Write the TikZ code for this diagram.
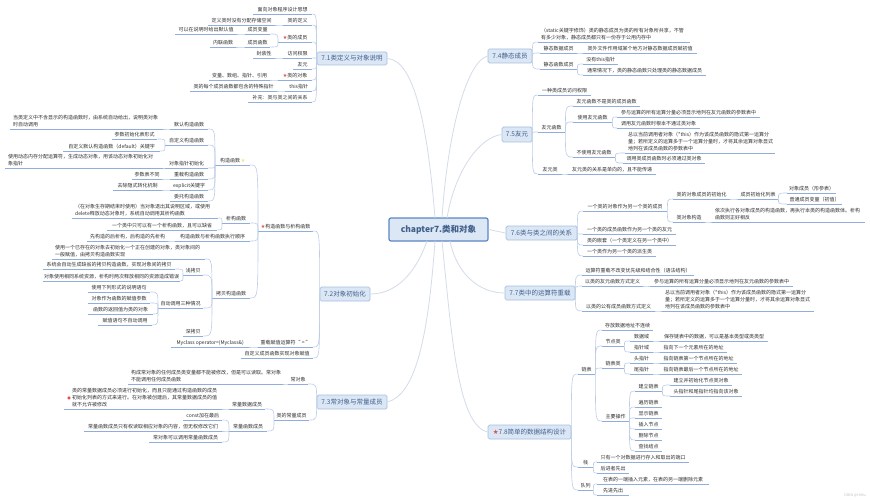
\documentclass[tikz,border=0pt]{standalone}
\usepackage{fontspec}
\setmainfont{Noto Sans CJK SC}
\newfontfamily\symfont{DejaVu Sans}
\usetikzlibrary{calc}
\definecolor{txt}{HTML}{2E2E2E}
\definecolor{uline}{HTML}{8FAEDB}
\definecolor{conn}{HTML}{BCCDE6}
\definecolor{mainconn}{HTML}{D3DCE8}
\definecolor{boxfill}{HTML}{DCE7F6}
\definecolor{boxedge}{HTML}{A6BEDF}
\definecolor{boxtext}{HTML}{3F5F8A}
\definecolor{rootedge}{HTML}{5B86C4}
\definecolor{redstar}{HTML}{D9534F}
\definecolor{yelstar}{HTML}{F3E08C}
\newcommand{\rs}{{\symfont\textcolor{redstar}{★}}}
\newcommand{\ys}{{\symfont\textcolor{yelstar}{★}}}
\tikzset{
  tp/.style={inner xsep=0pt,inner ysep=1.5pt,text height=4pt,text depth=1pt,text=txt,anchor=south west,font=\fontsize{5}{7}\selectfont},
  tpm/.style={inner xsep=3pt,inner ysep=1.5pt,align=left,text=txt,anchor=south west,font=\fontsize{5}{7}\selectfont},
  ul/.style={draw=uline,line width=0.8pt},
  lk/.style={draw=conn,line width=0.6pt},
  mlk/.style={draw=mainconn,line width=0.8pt},
  mainbox/.style={draw=boxedge,fill=boxfill,rounded corners=1.5pt,line width=0.7pt,inner sep=0pt,text=boxtext,font=\fontsize{6.5}{8}\selectfont},
  rootbox/.style={draw=rootedge,fill=boxfill,rounded corners=2pt,line width=1.2pt,inner sep=0pt,text=boxtext,font=\fontsize{8.5}{10}\selectfont\bfseries},
  icon/.style={inner sep=0pt,font=\fontsize{4}{4}\selectfont,text=redstar},
  wmark/.style={text=black!25,inner sep=0pt,font=\fontsize{3.5}{4}\selectfont}
}
\newcommand{\Tp}[5]{\node[tp] (#1) at (#2,#4) {\makebox[\dimexpr #3pt-#2pt\relax][c]{#5}};
  \draw[ul] (#1.south west) -- (#1.south east);}
\newcommand{\Tm}[5]{\node[tpm,text width=\dimexpr #3pt-#2pt-6pt\relax] (#1) at (#2,#4) {#5};
  \draw[ul] (#1.south west) -- (#1.south east);}
\newcommand{\Mb}[6]{\node[mainbox,minimum width=\dimexpr #3pt-#2pt\relax,minimum height=\dimexpr #5pt-#4pt\relax] (#1) at ({(#2+#3)/2},{(#4+#5)/2}) {#6};}
\newcommand{\Lk}[2]{\draw[lk] (#1) .. controls (#2 |- #1) and (#2 |- #1) .. (#2);}
\begin{document}
\begin{tikzpicture}[x=1pt,y=-1pt]
\useasboundingbox (0,0) rectangle (870,500);
\fill[white] (0,0) rectangle (870,500);
% root and main topics
\node[rootbox,minimum width=99pt,minimum height=23pt] (root) at (438.5,229.5) {chapter7.类和对象};
\Mb{m1}{317}{387}{52}{65}{7.1类定义与对象说明}
\Mb{m2}{320}{370}{287}{301}{7.2对象初始化}
\Mb{m3}{317}{387}{395}{409}{7.3常对象与常量成员}
\Mb{m4}{488}{532}{49}{63}{7.4静态成员}
\Mb{m5}{502}{532}{127}{142}{7.5友元}
\Mb{m6}{506}{577}{226}{240}{7.6类与类之间的关系}
\Mb{m7}{505}{575}{286}{300}{7.7类中的运算符重载}
\Mb{m8}{488}{571}{425}{439}{\rs 7.8简单的数据结构设计}
\coordinate (t1) at (435,218);
\coordinate (t2) at (442,218);
\coordinate (t3) at (447,218);
\coordinate (b1) at (427,241);
\coordinate (b2) at (435,241);
\coordinate (b3) at (442,241);
\coordinate (b4) at (450,241);
\draw[mlk] (m1.east) .. controls (415,60) and (428,130) .. (t1);
\draw[mlk] (m4.west) .. controls (465,62) and (447,140) .. (t2);
\draw[mlk] (m5.west) .. controls (480,137) and (455,170) .. (t3);
\draw[mlk] (root.east) -- (m6.west);
\draw[mlk] (b4) .. controls (457,275) and (480,293) .. (m7.west);
\draw[mlk] (b3) .. controls (452,340) and (458,425) .. (m8.west);
\draw[mlk] (b2) .. controls (428,340) and (415,395) .. (m3.east);
\draw[mlk] (b1) .. controls (415,275) and (395,294) .. (m2.east);
% 7.1
\Tp{a1}{253}{312}{14}{面向对象程序设计思想}
\Tp{a2}{283}{312}{25}{类的定义}
\Tp{a2a}{208}{275}{25}{定义类时没有分配存储空间}
\Tp{a3}{278}{312}{42}{\rs 类的成员}
\Tp{a3a}{245}{270}{34}{成员变量}
\Tp{a3b}{245}{270}{47}{成员函数}
\Tp{a3c}{175}{237}{34}{可以在说明时给出默认值}
\Tp{a3d}{210}{236}{47}{内联函数}
\Tp{a4}{283}{312}{58}{访问权限}
\Tp{a4a}{253}{275}{58}{封装性}
\Tp{a5}{293}{312}{69}{友元}
\Tp{a6}{278}{312}{80}{\rs 类的对象}
\Tp{a6a}{209}{270}{80}{变量、数组、指针、引用}
\Tp{a7}{285}{312}{91}{this指针}
\Tp{a7a}{190}{277}{91}{类的每个成员函数都包含的特殊指针}
\Tp{a8}{248}{312}{102}{补充：类与类之间的关系}
\foreach \c in {a1,a2,a3,a4,a5,a6,a7,a8} {\Lk{\c.south east}{m1.west}}
\Lk{a2a.south east}{a2.south west}
\Lk{a3a.south east}{a3.south west}
\Lk{a3b.south east}{a3.south west}
\Lk{a3c.south east}{a3a.south west}
\Lk{a3d.south east}{a3b.south west}
\Lk{a4a.south east}{a4.south west}
\Lk{a6a.south east}{a6.south west}
\Lk{a7a.south east}{a7.south west}
% 7.2 upper
\Tp{b0}{258}{313}{231}{\rs 构造函数与析构函数}
\Tp{b1n}{215}{250}{165}{构造函数\,\ys}
\Tp{c1}{170}{208}{129}{默认构造函数}
\Tm{c1a}{10}{163}{129}{当类定义中不含显示的构造函数时，由系统自动给出，说明类对象\\时自动调用}
\Tp{c2}{165}{208}{145}{自定义构造函数}
\Tp{c2a}{112}{157}{139}{参数初始化表形式}
\Tp{c2b}{63}{160}{151}{自定义默认构造函数（default）关键字}
\Tp{c3}{165}{208}{168}{对象指针初始化}
\Tm{c3a}{5}{163}{168}{使用动态内存分配运算符，生成动态对象，用该动态对象初始化对\\象指针}
\Tp{c4}{170}{208}{179}{重载构造函数}
\Tp{c4a}{132}{162}{179}{参数表不同}
\Tp{c5}{170}{208}{190}{explicit关键字}
\Tp{c5a}{113}{162}{190}{去除隐式转化机制}
\Tp{c6}{170}{208}{201}{委托构造函数}
\foreach \c in {c1,c2,c3,c4,c5,c6} {\Lk{\c.south east}{b1n.south west}}
\Lk{c1a.south east}{c1.south west}
\Lk{c2a.south east}{c2.south west}
\Lk{c2b.south east}{c2.south west}
\Lk{c3a.south east}{c3.south west}
\Lk{c4a.south east}{c4.south west}
\Lk{c5a.south east}{c5.south west}
\Tp{b2n}{222}{250}{223}{析构函数}
\Tm{d1}{72}{218}{218}{（在对象生存期结束时使用）当对象退出其说明区域，或使用\\delete释放动态对象时，系统自动调用其析构函数}
\Tp{d2}{107}{217}{230}{一个类中只可以有一个析构函数，且可以缺省}
\Lk{d1.south east}{b2n.south west}
\Lk{d2.south east}{b2n.south west}
\Tp{b3n}{175}{250}{241}{构造函数与析构函数执行顺序}
\Tp{e1}{87}{168}{241}{先构造的后析构，后构造的先析构}
\Lk{e1.south east}{b3n.south west}
\Tp{b4n}{212}{250}{298}{拷贝构造函数}
\Tm{f1}{52}{205}{259}{使用一个已存在的对象去初始化一个正在创建的对象，类对象间的\\一般赋值，由拷贝构造函数实现}
\Tp{f2}{183}{203}{275}{浅拷贝}
\Tp{f2a}{43}{175}{269}{系统会自动生成缺省的拷贝构造函数，实现对象间的拷贝}
\Tp{f2b}{43}{180}{281}{对象使用相同系统资源，析构时两次释放相同的资源造成错误}
\Tp{f3}{158}{203}{308}{自动调用三种情况}
\Tp{f3a}{88}{150}{292}{使用下列形式的说明语句}
\Tp{f3b}{88}{150}{303}{对象作为函数的赋值参数}
\Tp{f3c}{88}{153}{314}{函数的返回值为类的对象}
\Tp{f3d}{98}{152}{325}{赋值语句不自动调用}
\Tp{f4}{183}{203}{336}{深拷贝}
\foreach \c in {f1,f2,f3,f4} {\Lk{\c.south east}{b4n.south west}}
\Lk{f2a.south east}{f2.south west}
\Lk{f2b.south east}{f2.south west}
\foreach \c in {f3a,f3b,f3c,f3d} {\Lk{\c.south east}{f3.south west}}
\foreach \c in {b1n,b2n,b3n,b4n} {\Lk{\c.south east}{b0.south west}}
\Tp{g1}{258}{313}{347}{重载赋值运算符“ = ”}
\Tp{g1a}{171}{249}{347}{Myclass operator=(Myclass\&)}
\Tp{g2}{241}{313}{358}{自定义成员函数实现对象赋值}
\Lk{g1a.south east}{g1.south west}
\foreach \c in {b0,g1,g2} {\Lk{\c.south east}{m2.west}}
% 7.3
\Tp{h1}{288}{308}{384}{常对象}
\Tm{h1a}{128}{283}{384}{构成常对象的任何成员类变量都不能被修改，但是可以读取。常对象\\不能调用任何成员函数}
\Tp{h2}{274}{309}{420}{类的常量成员}
\Tp{h3}{229}{265}{409}{常量数据成员}
\Tm{h3a}{64}{222}{409}{\hspace*{5pt}类的常量数据成员必须进行初始化，而且只能通过构造函数的成员\\\hspace*{5pt}初始化列表的方式来进行。在对象被创建后，其常量数据成员的值\\\hspace*{5pt}就不允许被修改}
\node[icon] (h3i) at (69,398) {{\symfont ●}};
\Tp{h4}{229}{267}{431}{常量函数成员}
\Tp{h4a}{183}{222}{420}{const加在最后}
\Tp{h4b}{84}{222}{431}{常量函数成员只有权读取相应对象的内容，但无权修改它们}
\Tp{h4c}{149}{222}{442}{常对象可以调用常量函数成员}
\Lk{h1a.south east}{h1.south west}
\Lk{h3a.south east}{h3.south west}
\foreach \c in {h4a,h4b,h4c} {\Lk{\c.south east}{h4.south west}}
\Lk{h3.south east}{h2.south west}
\Lk{h4.south east}{h2.south west}
\Lk{h1.south east}{m3.west}
\Lk{h2.south east}{m3.west}
% 7.4
\Tm{i1}{538}{690}{42}{（static关键字修饰）类的静态成员为类的所有对象所共享，不管\\有多少对象，静态成员都只有一份存于公用内存中}
\Tp{i2}{540}{577}{53}{静态数据成员}
\Tp{i2a}{583}{697}{53}{类外文件作用域某个地方对静态数据成员赋初值}
\Tp{i3}{540}{577}{69}{静态函数成员}
\Tp{i3a}{583}{618}{64}{没有this指针}
\Tp{i3b}{583}{706}{75}{通常情况下，类的静态函数只处理类的静态数据成员}
\foreach \c in {i1,i2,i3} {\Lk{\c.south west}{m4.east}}
\Lk{i2a.south west}{i2.south east}
\Lk{i3a.south west}{i3.south east}
\Lk{i3b.south west}{i3.south east}
% 7.5
\Tp{j1}{538}{591}{95}{一种类成员访问权限}
\Tp{j2}{538}{565}{132}{友元函数}
\Tp{j2a}{573}{640}{106}{友元函数不是类的成员函数}
\Tp{j2b}{573}{612}{122}{使用友元函数}
\Tp{j2c}{617}{760}{117}{参与运算的所有运算分量必须显示地列在友元函数的参数表中}
\Tp{j2d}{617}{700}{128}{调用友元函数时根本不通过类对象}
\Tp{j2e}{573}{615}{157}{不使用友元函数}
\Tm{j2f}{625}{775}{153}{总以当前调用者对象（*this）作为该成员函数的隐式第一运算分\\量；若所定义的运算多于一个运算分量时，才将其余运算对象显式\\地列在该成员函数的参数表中}
\Tp{j2g}{623}{705}{163}{调用类成员函数时必须通过类对象}
\Tp{j3}{538}{562}{174}{友元类}
\Tp{j3a}{568}{656}{174}{友元类的关系是单向的，且不能传递}
\foreach \c in {j1,j2,j3} {\Lk{\c.south west}{m5.east}}
\foreach \c in {j2a,j2b,j2e} {\Lk{\c.south west}{j2.south east}}
\Lk{j2c.south west}{j2b.south east}
\Lk{j2d.south west}{j2b.south east}
\Lk{j2f.south west}{j2e.south east}
\Lk{j2g.south west}{j2e.south east}
\Lk{j3a.south west}{j3.south east}
% 7.6
\Tp{k1}{583}{667}{211}{一个类的对象作为另一个类的成员}
\Tp{k1a}{673}{730}{199}{类的对象成员的初始化}
\Tp{k1b}{738}{778}{199}{成员初始化列表}
\Tp{k1c}{787}{836}{193}{对象成员（形参表）}
\Tp{k1d}{787}{842}{204}{普通成员变量（初值）}
\Tp{k1e}{673}{705}{222}{类对象构造}
\Tm{k1f}{712}{865}{222}{依次执行各对象成员的构造函数，再执行本类的构造函数体。析构\\函数则正好相反}
\Tp{k2}{583}{676}{234}{一个类的成员函数作为另一个类的友元}
\Tp{k3}{583}{676}{245}{类的嵌套（一个类定义在另一个类中）}
\Tp{k4}{583}{656}{256}{一个类作为另一个类的派生类}
\foreach \c in {k1,k2,k3,k4} {\Lk{\c.south west}{m6.east}}
\Lk{k1a.south west}{k1.south east}
\Lk{k1e.south west}{k1.south east}
\Lk{k1b.south west}{k1a.south east}
\Lk{k1c.south west}{k1b.south east}
\Lk{k1d.south west}{k1b.south east}
\Lk{k1f.south west}{k1e.south east}
% 7.7
\Tp{l1}{582}{694}{275}{运算符重载不改变优先级和结合性（语法结构）}
\Tp{l2}{582}{643}{286}{以类的友元函数方式定义}
\Tp{l2a}{650}{793}{286}{参与运算的所有运算分量必须显示地列在友元函数的参数表中}
\Tp{l3}{582}{655}{311}{以类的公有成员函数方式定义}
\Tm{l3a}{662}{814}{311}{总以当前调用者对象（*this）作为该成员函数的隐式第一运算分\\量；若所定义的运算多于一个运算分量时，才将其余运算对象显式\\地列在该成员函数的参数表中}
\foreach \c in {l1,l2,l3} {\Lk{\c.south west}{m7.east}}
\Lk{l2a.south west}{l2.south east}
\Lk{l3a.south west}{l3.south east}
% 7.8
\Tp{n1}{578}{595}{374}{链表}
\Tp{n1a}{602}{653}{330}{存放数据地址不连续}
\Tp{n1b}{602}{624}{346}{节点类}
\Tp{n1c}{630}{653}{341}{数据域}
\Tp{n1d}{660}{768}{341}{保存链表中的数据，可以是基本类型或类类型}
\Tp{n1e}{630}{653}{352}{指针域}
\Tp{n1f}{660}{727}{352}{指向下一个元素所在的地址}
\Tp{n2}{602}{624}{368}{链表类}
\Tp{n2a}{630}{653}{363}{头指针}
\Tp{n2b}{660}{737}{363}{指向链表第一个节点所在的地址}
\Tp{n2c}{630}{653}{374}{尾指针}
\Tp{n2d}{660}{742}{374}{指向链表最后一个节点所在的地址}
\Tp{n3}{602}{629}{421}{主要操作}
\Tp{n3a}{635}{662}{391}{建立链表}
\Tp{n3b}{670}{732}{385}{建立并初始化节点类对象}
\Tp{n3c}{670}{742}{396}{头指针和尾指针均指向该对象}
\Tp{n3d}{635}{662}{407}{遍历链表}
\Tp{n3e}{635}{662}{418}{显示链表}
\Tp{n3f}{635}{662}{429}{插入节点}
\Tp{n3g}{635}{662}{440}{删除节点}
\Tp{n3h}{635}{662}{451}{查找结点}
\Tp{n4}{578}{593}{467}{栈}
\Tp{n4a}{597}{689}{462}{只有一个对数据进行存入和取出的端口}
\Tp{n4b}{597}{629}{473}{后进者先出}
\Tp{n5}{578}{593}{490}{队列}
\Tp{n5a}{597}{709}{484}{在表的一端插入元素，在表的另一端删除元素}
\Tp{n5b}{597}{629}{495}{先进先出}
\foreach \c in {n1,n4,n5} {\Lk{\c.south west}{m8.east}}
\foreach \c in {n1a,n1b,n2,n3} {\Lk{\c.south west}{n1.south east}}
\Lk{n1c.south west}{n1b.south east}
\Lk{n1e.south west}{n1b.south east}
\Lk{n1d.south west}{n1c.south east}
\Lk{n1f.south west}{n1e.south east}
\Lk{n2a.south west}{n2.south east}
\Lk{n2c.south west}{n2.south east}
\Lk{n2b.south west}{n2a.south east}
\Lk{n2d.south west}{n2c.south east}
\foreach \c in {n3a,n3d,n3e,n3f,n3g,n3h} {\Lk{\c.south west}{n3.south east}}
\Lk{n3b.south west}{n3a.south east}
\Lk{n3c.south west}{n3a.south east}
\Lk{n4a.south west}{n4.south east}
\Lk{n4b.south west}{n4.south east}
\Lk{n5a.south west}{n5.south east}
\Lk{n5b.south west}{n5.south east}
\node[wmark,anchor=east] (wm) at (866,495) {CSDN @Hi9iu};
\end{tikzpicture}
\end{document}
